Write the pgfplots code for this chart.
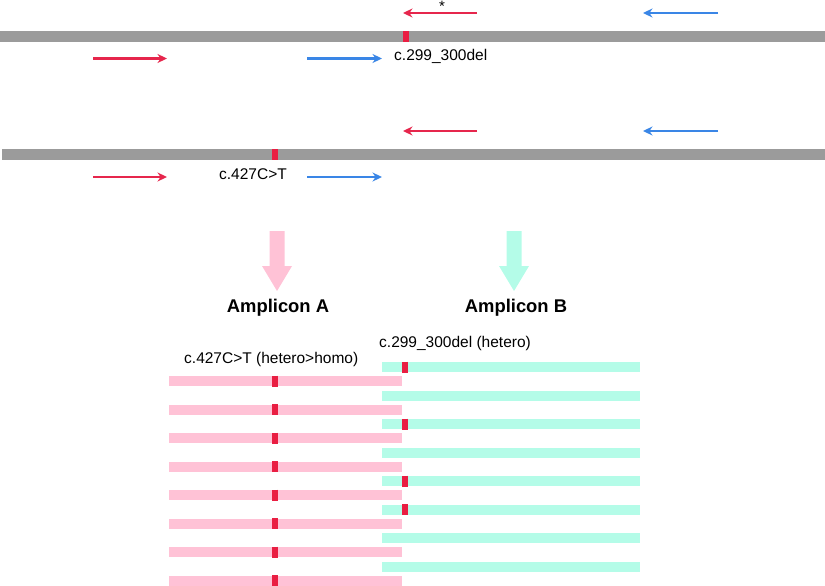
\documentclass[border=0pt]{standalone}
\usepackage{pgfplots}
\pgfplotsset{compat=1.18}
\usepackage{fontspec}
\setmainfont{Liberation Sans}
\usetikzlibrary{arrows.meta}
\definecolor{barGray}{RGB}{155,155,155}
\definecolor{redA}{RGB}{230,38,76}
\definecolor{redM}{RGB}{233,30,66}
\definecolor{blueA}{RGB}{58,134,230}
\definecolor{pinkB}{RGB}{255,194,214}
\definecolor{mintB}{RGB}{180,252,232}
\begin{document}
\begin{tikzpicture}
\begin{axis}[
  scale only axis, width=825pt, height=586pt,
  xmin=0, xmax=825, ymin=0, ymax=586, y dir=reverse,
  hide axis, no markers, clip=true,
]
\path (rel axis cs:0,0) rectangle (rel axis cs:1,1);
% ---- genome bars
\addplot[barGray, line width=11pt] coordinates {(0,36.5) (825,36.5)};
\addplot[redM, line width=6pt] coordinates {(405.5,31) (405.5,42)};
\addplot[barGray, line width=11pt] coordinates {(2,154.5) (825,154.5)};
\addplot[redM, line width=6pt] coordinates {(274.5,149) (274.5,160)};
% ---- primer arrows, set 1
\addplot[redA, line width=2.2pt, -{Stealth[length=9.5pt,width=9pt]}] coordinates {(477,13) (403,13)};
\addplot[blueA, line width=2.2pt, -{Stealth[length=9.5pt,width=9pt]}] coordinates {(718,13) (643,13)};
\addplot[redA, line width=2.2pt, -{Stealth[length=9.5pt,width=9pt]}] coordinates {(93,58.5) (167,58.5)};
\addplot[blueA, line width=2.2pt, -{Stealth[length=9.5pt,width=9pt]}] coordinates {(307,58.5) (382,58.5)};
% ---- primer arrows, set 2
\addplot[redA, line width=2.2pt, -{Stealth[length=9.5pt,width=9pt]}] coordinates {(477,131) (403,131)};
\addplot[blueA, line width=2.2pt, -{Stealth[length=9.5pt,width=9pt]}] coordinates {(718,131) (643,131)};
\addplot[redA, line width=2.2pt, -{Stealth[length=9.5pt,width=9pt]}] coordinates {(93,177) (167,177)};
\addplot[blueA, line width=2.2pt, -{Stealth[length=9.5pt,width=9pt]}] coordinates {(307,177) (382,177)};
% ---- big arrows
\addplot[fill=pinkB, draw=none] coordinates {(269.5,231) (284.5,231) (284.5,266) (292,266) (277,291) (262,266) (269.5,266)} -- cycle;
\addplot[fill=mintB, draw=none] coordinates {(506.5,231) (521.5,231) (521.5,266) (529,266) (514,291) (499,266) (506.5,266)} -- cycle;
% ---- amplicon B reads
\addplot[mintB, line width=10pt] coordinates {(382,367) (640,367)};
\addplot[mintB, line width=10pt] coordinates {(382,395.5) (640,395.5)};
\addplot[mintB, line width=10pt] coordinates {(382,424) (640,424)};
\addplot[mintB, line width=10pt] coordinates {(382,452.5) (640,452.5)};
\addplot[mintB, line width=10pt] coordinates {(382,481) (640,481)};
\addplot[mintB, line width=10pt] coordinates {(382,509.5) (640,509.5)};
\addplot[mintB, line width=10pt] coordinates {(382,538) (640,538)};
\addplot[mintB, line width=10pt] coordinates {(382,566.5) (640,566.5)};
\addplot[redM, line width=6pt] coordinates {(405,361.5) (405,372.5)};
\addplot[redM, line width=6pt] coordinates {(405,418.5) (405,429.5)};
\addplot[redM, line width=6pt] coordinates {(405,475.5) (405,486.5)};
\addplot[redM, line width=6pt] coordinates {(405,504) (405,515)};
% ---- amplicon A reads
\addplot[pinkB, line width=10pt] coordinates {(169,381) (402,381)};
\addplot[pinkB, line width=10pt] coordinates {(169,409.5) (402,409.5)};
\addplot[pinkB, line width=10pt] coordinates {(169,438) (402,438)};
\addplot[pinkB, line width=10pt] coordinates {(169,466.5) (402,466.5)};
\addplot[pinkB, line width=10pt] coordinates {(169,495) (402,495)};
\addplot[pinkB, line width=10pt] coordinates {(169,523.5) (402,523.5)};
\addplot[pinkB, line width=10pt] coordinates {(169,552) (402,552)};
\addplot[pinkB, line width=10pt] coordinates {(169,580.5) (402,580.5)};
\addplot[redM, line width=6pt] coordinates {(275,375.5) (275,386.5)};
\addplot[redM, line width=6pt] coordinates {(275,404) (275,415)};
\addplot[redM, line width=6pt] coordinates {(275,432.5) (275,443.5)};
\addplot[redM, line width=6pt] coordinates {(275,461) (275,472)};
\addplot[redM, line width=6pt] coordinates {(275,489.5) (275,500.5)};
\addplot[redM, line width=6pt] coordinates {(275,518) (275,529)};
\addplot[redM, line width=6pt] coordinates {(275,546.5) (275,557.5)};
\addplot[redM, line width=6pt] coordinates {(275,575) (275,586)};
% ---- text
\node[font=\fontsize{15.5}{18}\selectfont, inner sep=0pt, anchor=west] at (axis cs:394,56) {c.299\_300del};
\node[font=\fontsize{15.5}{18}\selectfont, inner sep=0pt] at (axis cs:253,174) {c.427C>T};
\node[font=\fontsize{15}{18}\selectfont, inner sep=0pt] at (axis cs:442,6) {*};
\node[font=\fontsize{18.4}{22}\selectfont\bfseries, inner sep=0pt] at (axis cs:278,308) {Amplicon A};
\node[font=\fontsize{18.4}{22}\selectfont\bfseries, inner sep=0pt] at (axis cs:516,308) {Amplicon B};
\node[font=\fontsize{15.5}{18}\selectfont, inner sep=0pt, anchor=west] at (axis cs:379,343) {c.299\_300del (hetero)};
\node[font=\fontsize{15.5}{18}\selectfont, inner sep=0pt, anchor=west] at (axis cs:184,359) {c.427C>T (hetero>homo)};
\end{axis}
\end{tikzpicture}
\end{document}
